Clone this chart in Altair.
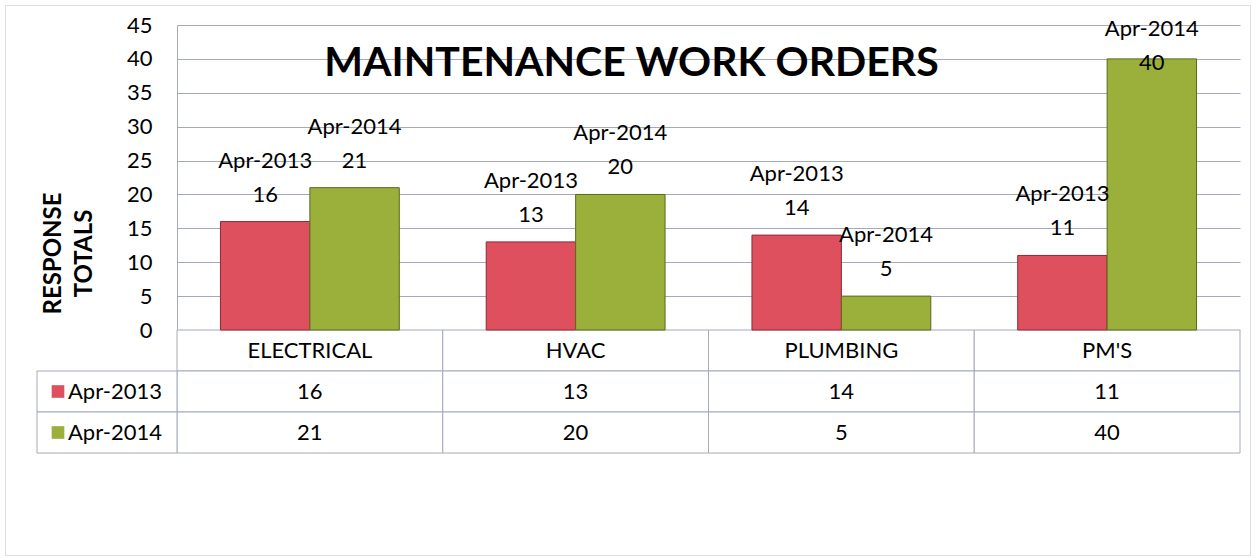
import altair as alt
import pandas as pd

# ---- data ----
categories = ["ELECTRICAL", "HVAC", "PLUMBING", "PM'S"]
series = ["Apr-2013", "Apr-2014"]
values_2013 = [16, 13, 14, 11]
values_2014 = [21, 20, 5, 40]
y_ticks = [0, 5, 10, 15, 20, 25, 30, 35, 40, 45]
bar_colors = ["#DF505E", "#9BAF3B"]
bar_edges = ["#8E2A33", "#5B681C"]

rows = []
for s, vals in zip(series, [values_2013, values_2014]):
    for c, v in zip(categories, vals):
        rows.append({"category": c, "series": s, "value": v})
df = pd.DataFrame(rows)

cell_rows = []
for r in ["header"] + series:
    for c in categories:
        cell_rows.append({"category": c, "row": r})
cells_df = pd.DataFrame(cell_rows)
header_df = pd.DataFrame({"category": categories, "row": ["header"] * len(categories)})
legend_df = pd.DataFrame({"series": series})

# ---- layout (pixels inside the outer frame) ----
W, H = 1245, 550
GRID = "#A4A9BE"
FONT = "Lato"

x_scale = alt.Scale(domain=categories, range=[172, 1235], paddingInner=0, paddingOuter=0)
xoff_scale = alt.Scale(domain=series, paddingInner=0, paddingOuter=0.486)
y_scale = alt.Scale(domain=[0, 45], range=[325, 20], nice=False, zero=True)
row_scale = alt.Scale(domain=["header"] + series, range=[325, 448], paddingInner=0, paddingOuter=0)
color_scale = alt.Scale(domain=series, range=bar_colors)

X = alt.X("category:N", scale=x_scale, axis=None, sort=categories)
XO = alt.XOffset("series:N", scale=xoff_scale)

cells = alt.Chart(cells_df).mark_rect(fill="white", stroke=GRID, strokeWidth=1).encode(
    x=X,
    y=alt.Y("row:N", scale=row_scale, axis=None),
)

left_cells = alt.Chart(legend_df).mark_rect(fill="white", stroke=GRID, strokeWidth=1).encode(
    x=alt.value(32),
    x2=alt.value(172),
    y=alt.Y("series:N", scale=row_scale, axis=None),
)

bars = alt.Chart(df).mark_bar(strokeWidth=1).encode(
    x=X,
    xOffset=XO,
    y=alt.Y(
        "value:Q",
        scale=y_scale,
        axis=alt.Axis(
            orient="left",
            values=y_ticks,
            offset=-172,
            ticks=False,
            domain=True,
            domainColor=GRID,
            grid=True,
            gridColor=GRID,
            gridWidth=1,
            labelFontSize=22,
            labelFont=FONT,
            labelColor="black",
            labelPadding=25,
            title=["RESPONSE", "TOTALS"],
            titleFont=FONT,
            titleFontSize=24,
            titleFontWeight="bold",
            titleColor="black",
            titleAngle=270,
            titleAlign="center",
            titleBaseline="middle",
            titleLineHeight=31,
            titleX=-124,
            titleY=248,
        ),
    ),
    color=alt.Color("series:N", scale=color_scale, legend=None),
    stroke=alt.Stroke("series:N", scale=alt.Scale(domain=series, range=bar_edges), legend=None),
)

label_y = alt.Y("ly:Q", scale=y_scale, axis=None)
val_labels = alt.Chart(df).transform_calculate(ly="min(datum.value, 35.4)").mark_text(
    dy=-20, baseline="alphabetic", fontSize=22, font=FONT, color="black"
).encode(x=X, xOffset=XO, y=label_y, text="value:Q")

name_labels = alt.Chart(df).transform_calculate(ly="min(datum.value, 35.4)").mark_text(
    dy=-54, baseline="alphabetic", fontSize=22, font=FONT, color="black"
).encode(x=X, xOffset=XO, y=label_y, text="series:N")

header_text = alt.Chart(header_df).mark_text(fontSize=22, font=FONT, color="black").encode(
    x=X,
    y=alt.Y("row:N", scale=row_scale, axis=None),
    text="category:N",
)

table_text = alt.Chart(df).mark_text(fontSize=22, font=FONT, color="black").encode(
    x=X,
    y=alt.Y("series:N", scale=row_scale, axis=None),
    text="value:Q",
)

squares = alt.Chart(legend_df).mark_square(size=160, opacity=1, strokeWidth=1).encode(
    x=alt.value(53),
    y=alt.Y("series:N", scale=row_scale, axis=None),
    color=alt.Color("series:N", scale=color_scale, legend=None),
)

legend_text = alt.Chart(legend_df).mark_text(align="left", fontSize=22, font=FONT, color="black").encode(
    x=alt.value(63),
    y=alt.Y("series:N", scale=row_scale, axis=None),
    text="series:N",
)

chart = (
    alt.layer(cells, left_cells, bars, val_labels, name_labels, header_text, table_text, squares, legend_text)
    .resolve_scale(y="independent")
    .properties(
        width=W,
        height=H,
        autosize=alt.AutoSizeParams(type="none"),
        padding={"left": 5, "top": 5, "right": 7, "bottom": 4},
        title=alt.Title(
            "MAINTENANCE WORK ORDERS",
            font=FONT,
            fontSize=41,
            fontWeight="bold",
            color="black",
            anchor="middle",
            baseline="alphabetic",
            offset=0,
            dy=112,
            dx=4,
        ),
        background="white",
    )
    .configure_view(stroke="#5F6A85", strokeWidth=2)
    .configure(font=FONT)
)

chart.save("out.html", embed_options={"renderer": "svg", "actions": False})
